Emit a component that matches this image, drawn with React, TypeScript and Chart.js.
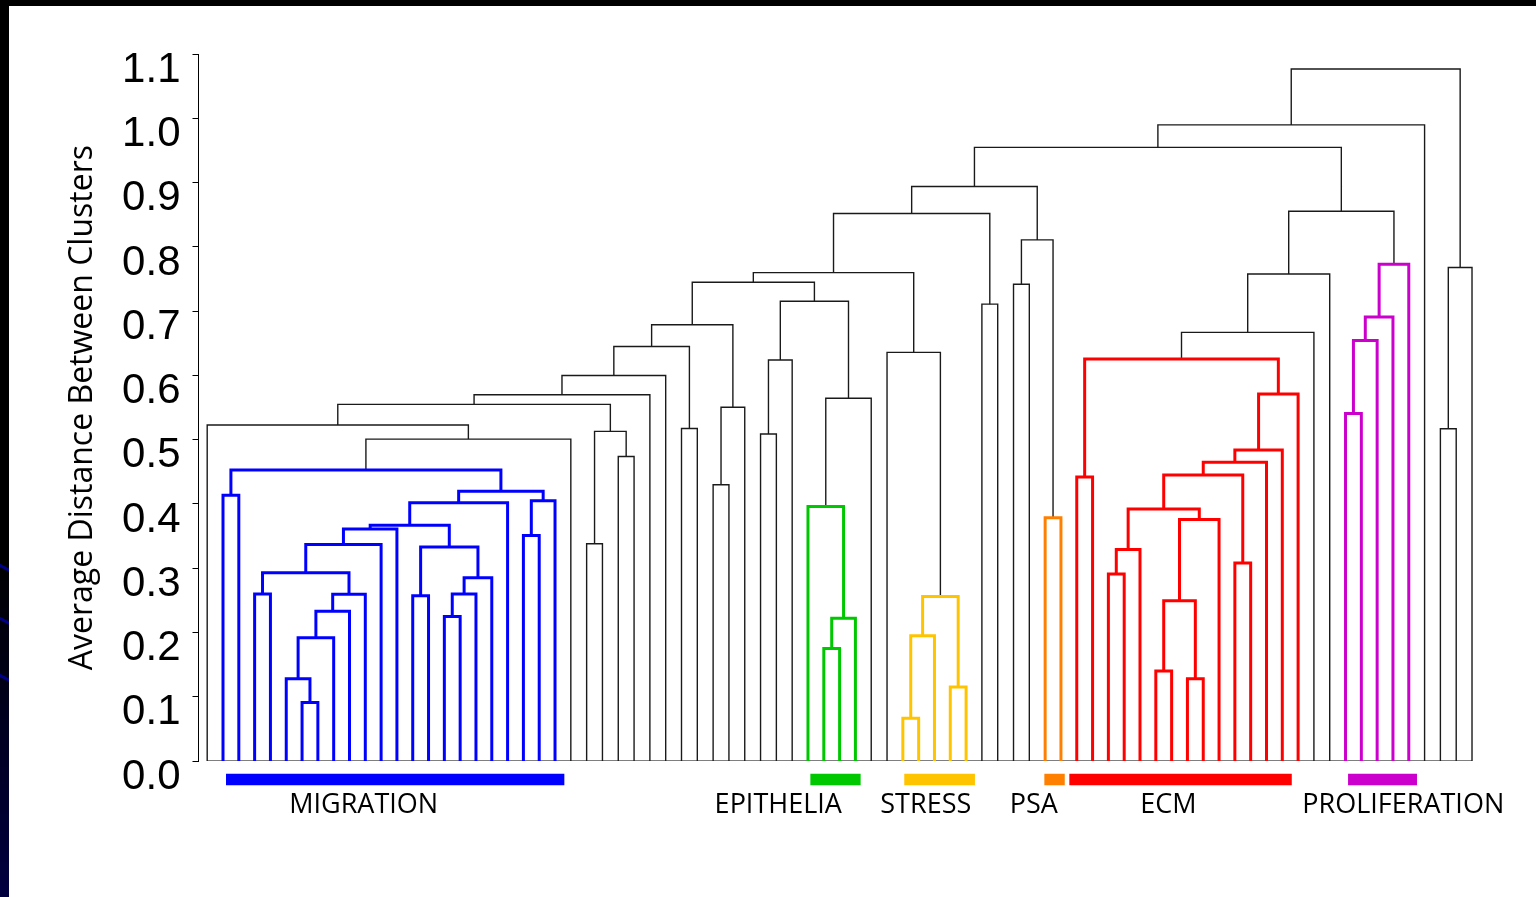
import { useEffect, useRef } from 'react';
import { Chart, registerables } from 'chart.js';

Chart.register(...registerables);

// ---------- data ----------
// Leaves are numbered 0..80 in plotted (left-to-right) order.
const LEAF_COUNT = 81;

// Linkage: each merge joins two children ('L#' = leaf, 'M#' = earlier merge) at a height.
const mergeLeft = [
  'L6', 'L5', 'M1', 'M2', 'M3', 'L3', 'M5', 'M6', 'M7', 'L13',
  'L15', 'M10', 'M11', 'M9', 'M8', 'M14', 'L20', 'M16', 'M15', 'L1',
  'M19', 'M20', 'L0', 'L24', 'L26', 'M23', 'M22', 'M26', 'M27', 'L30',
  'M28', 'L32', 'M31', 'M30', 'L35', 'M34', 'L39', 'M36', 'L38', 'M38',
  'M35', 'M33', 'L44', 'M42', 'L47', 'M43', 'L43', 'M41', 'L49', 'M47',
  'L51', 'L53', 'M50', 'M49', 'L55', 'L57', 'M55', 'L60', 'L62', 'M57',
  'M59', 'M56', 'L65', 'M61', 'M63', 'M64', 'M65', 'M54', 'M67', 'M68',
  'L72', 'M70', 'M71', 'M72', 'M69', 'M53', 'M75', 'L78', 'M77', 'M76',
];
const mergeRight = [
  'L7', 'M0', 'L8', 'L9', 'L10', 'L4', 'M4', 'L11', 'L12', 'L14',
  'L16', 'L17', 'L18', 'M12', 'M13', 'L19', 'L21', 'L22', 'M17', 'L2',
  'M18', 'L23', 'M21', 'L25', 'L27', 'M24', 'M25', 'L28', 'L29', 'L31',
  'M29', 'L33', 'L34', 'M32', 'L36', 'L37', 'L40', 'L41', 'M37', 'L42',
  'M39', 'M40', 'L45', 'L46', 'L48', 'M44', 'M45', 'M46', 'L50', 'M48',
  'L52', 'L54', 'M51', 'M52', 'L56', 'L58', 'L59', 'L61', 'L63', 'M58',
  'L64', 'M60', 'L66', 'M62', 'L67', 'L68', 'L69', 'M66', 'L70', 'L71',
  'L73', 'L74', 'L75', 'L76', 'M73', 'M74', 'L77', 'L79', 'L80', 'M78',
];
const mergeHeight = [
  0.091, 0.128, 0.192, 0.233, 0.2595, 0.260, 0.293, 0.337, 0.361, 0.257,
  0.225, 0.260, 0.285, 0.333, 0.367, 0.402, 0.351, 0.405, 0.420, 0.4135,
  0.453, 0.501, 0.523, 0.338, 0.474, 0.513, 0.555, 0.570, 0.600, 0.5175,
  0.645, 0.430, 0.5505, 0.679, 0.509, 0.624, 0.175, 0.222, 0.396, 0.5645,
  0.7155, 0.745, 0.0665, 0.195, 0.115, 0.256, 0.636, 0.760, 0.711, 0.852,
  0.742, 0.3785, 0.811, 0.894, 0.442, 0.291, 0.329, 0.140, 0.128, 0.2495,
  0.376, 0.392, 0.308, 0.445, 0.465, 0.484, 0.571, 0.6255, 0.667, 0.758,
  0.541, 0.6545, 0.691, 0.773, 0.8555, 0.955, 0.990, 0.517, 0.768, 1.077,
];

const clusterNames = ['MIGRATION', 'EPITHELIA', 'STRESS', 'PSA', 'ECM', 'PROLIFERATION'];
const clusterColors = ['#0000ff', '#00c800', '#ffc400', '#ff8000', '#ff0000', '#cc00cc'];
const clusterFirstLeaf = [1, 38, 44, 53, 55, 72];
const clusterLastLeaf = [22, 41, 48, 54, 69, 76];

const yTickValues = [0, 0.1, 0.2, 0.3, 0.4, 0.5, 0.6, 0.7, 0.8, 0.9, 1.0, 1.1];
const yTitle = 'Average Distance Between Clusters';

// ---------- layout (leaf units / axis units) ----------
const barStart = [1.19, 38.15, 44.09, 52.95, 54.53, 72.16];
const barEnd = [22.59, 41.33, 48.56, 54.24, 68.6, 76.52];
const BAR_Y = -0.0288;
const labelCenter = [9.9, 36.12, 45.45, 52.28, 60.79, 75.65];
const LABEL_Y = -0.0814;

const LINK_BLACK = '#1a1a1a';

type Node = { x: number; h: number; lo: number; hi: number };

function buildTree() {
  const nodes: Node[] = [];
  const ref = (s: string): Node => {
    const n = parseInt(s.slice(1), 10);
    if (s[0] === 'L') return { x: n, h: 0, lo: n, hi: n };
    return nodes[n];
  };
  const links: { a: Node; b: Node; n: Node }[] = [];
  mergeLeft.forEach((la, i) => {
    const a = ref(la);
    const b = ref(mergeRight[i]);
    const n: Node = {
      x: (a.x + b.x) / 2,
      h: mergeHeight[i],
      lo: Math.min(a.lo, b.lo),
      hi: Math.max(a.hi, b.hi),
    };
    nodes.push(n);
    links.push({ a, b, n });
  });
  return links;
}

function clusterOf(n: Node): number {
  for (let c = 0; c < clusterNames.length; c++) {
    if (n.lo >= clusterFirstLeaf[c] && n.hi <= clusterLastLeaf[c]) return c;
  }
  return -1;
}

const labelPlugin = {
  id: 'clusterLabels',
  afterDraw(chart: any) {
    const { ctx, scales } = chart;
    const xs = scales.x;
    const ys = scales.y;
    ctx.save();
    ctx.font = '27px "Open Sans", "Noto Sans", sans-serif';
    ctx.fillStyle = '#000';
    ctx.textAlign = 'center';
    ctx.textBaseline = 'alphabetic';
    clusterNames.forEach((name, i) => {
      ctx.fillText(name, xs.getPixelForValue(labelCenter[i]), ys.getPixelForValue(LABEL_Y));
    });
    ctx.restore();
  },
};

export default function App() {
  const canvasRef = useRef<HTMLCanvasElement | null>(null);

  useEffect(() => {
    document.body.style.margin = '0';
    document.body.style.overflow = 'hidden';
    const canvas = canvasRef.current;
    if (!canvas) return;

    const links = buildTree();
    const linkDatasets = links.map(({ a, b, n }) => {
      const c = clusterOf(n);
      return {
        data: [
          { x: a.x, y: a.h },
          { x: a.x, y: n.h },
          { x: b.x, y: n.h },
          { x: b.x, y: b.h },
        ],
        showLine: true,
        borderColor: c >= 0 ? clusterColors[c] : LINK_BLACK,
        borderWidth: c >= 0 ? 3 : 1.4,
        borderJoinStyle: 'miter' as const,
        borderCapStyle: 'butt' as const,
        pointRadius: 0,
        order: c >= 0 ? 1 : 2,
      };
    });

    const baseline = {
      data: [
        { x: 0, y: 0 },
        { x: LEAF_COUNT - 1, y: 0 },
      ],
      showLine: true,
      borderColor: '#7f7f7f',
      borderWidth: 2,
      pointRadius: 0,
      order: 3,
    };

    const barDatasets = clusterNames.map((_, i) => ({
      data: [
        { x: barStart[i], y: BAR_Y },
        { x: barEnd[i], y: BAR_Y },
      ],
      showLine: true,
      borderColor: clusterColors[i],
      borderWidth: 11.5,
      borderCapStyle: 'butt' as const,
      pointRadius: 0,
      clip: false as const,
      order: 0,
    }));

    const chart = new Chart(canvas, {
      type: 'scatter',
      data: { datasets: [...barDatasets, ...linkDatasets, baseline] as any },
      options: {
        animation: false,
        responsive: false,
        devicePixelRatio: 1,
        events: [],
        layout: { padding: { left: 0, right: 54.5, top: 54.2, bottom: 136 } },
        plugins: { legend: { display: false }, tooltip: { enabled: false } },
        scales: {
          x: { type: 'linear', min: -0.55, max: 80.6, display: false },
          y: {
            type: 'linear',
            min: 0,
            max: 1.1,
            afterBuildTicks: (scale: any) => {
              scale.ticks = yTickValues.map((v) => ({ value: v }));
            },
            afterFit: (scale: any) => {
              scale.width = 198.5;
            },
            ticks: {
              color: '#000',
              font: { family: '"Liberation Sans", Arial, sans-serif', size: 42 },
              padding: 12,
              labelOffset: 16,
              callback: (v: any) => Number(v).toFixed(1),
            },
            grid: {
              drawOnChartArea: false,
              drawTicks: true,
              tickLength: 6,
              color: '#000',
              lineWidth: 1,
            },
            border: { display: true, color: '#000', width: 1 },
            title: {
              display: true,
              text: yTitle,
              color: '#000',
              font: { family: '"Open Sans", "Noto Sans", sans-serif', size: 32 },
              padding: { top: 63.4, bottom: 0 },
            },
          },
        },
      },
      plugins: [labelPlugin],
    });

    return () => chart.destroy();
  }, []);

  return (
    <div
      style={{
        position: 'absolute',
        left: 0,
        top: 0,
        width: 1536,
        height: 897,
        overflow: 'hidden',
        background: 'linear-gradient(to bottom, #000 0%, #000 62%, #000040 100%)',
      }}
    >
      <div style={{ position: 'absolute', left: 0, top: 0, width: 1536, height: 6, background: '#000' }} />
      {[566, 619, 676].map((t) => (
        <div
          key={t}
          style={{
            position: 'absolute',
            left: -4,
            top: t,
            width: 16,
            height: 3,
            background: '#00008b',
            transform: 'rotate(28deg)',
          }}
        />
      ))}
      <div style={{ position: 'absolute', left: 9, top: 6, width: 1527, height: 891, background: '#fff' }} />
      <canvas
        ref={canvasRef}
        width={1536}
        height={897}
        style={{ position: 'absolute', left: 0, top: 0, width: 1536, height: 897 }}
      />
    </div>
  );
}
